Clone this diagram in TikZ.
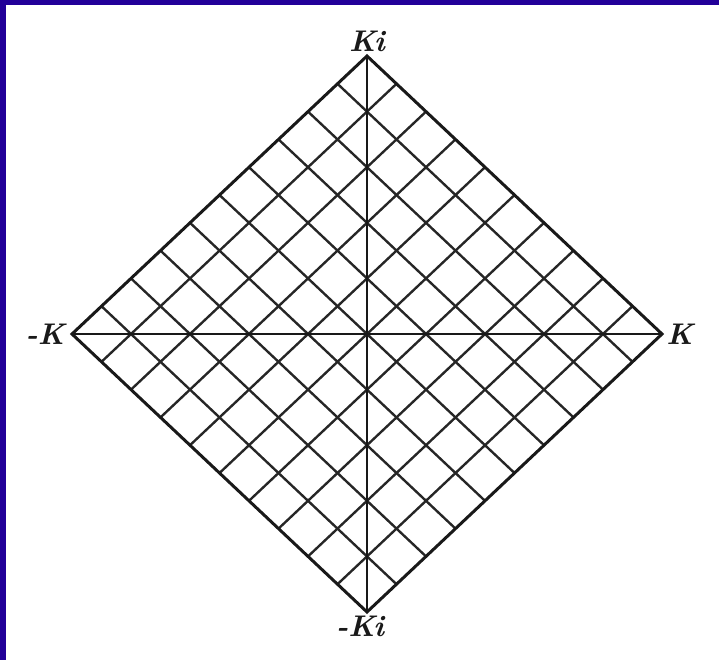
\documentclass[tikz,border=0pt]{standalone}
\usepackage{tikz}
\usetikzlibrary{positioning,calc}
\definecolor{frameblue}{RGB}{34,0,153}

\begin{document}
\begin{tikzpicture}[x=0.02cm,y=-0.02cm,
edge/.style={line width=1.7pt,black!90,line join=miter},
gridline/.style={line width=1.35pt,black!85},
axis/.style={line width=1.3pt,black!90},
lbl/.style={inner sep=0pt,black!90,font=\fontsize{17}{20}\selectfont\bfseries\itshape}]
% page, with the blue strips at top and left
\useasboundingbox (0,0) rectangle (719,660);
\fill[white] (0,0) rectangle (719,660);
\fill[frameblue] (0,0) rectangle (719,5);
\fill[frameblue] (0,0) rectangle (6,660);
% corners of the square
\coordinate (kipos) at (367,56);
\coordinate (kineg) at (367,612);
\coordinate (kneg) at (72,334);
\coordinate (kpos) at (662,334);
% net of lines parallel to the sides
\foreach \k in {1,...,9}{
  \draw[gridline] ($(kneg)!\k/10!(kineg)$) -- ($(kipos)!\k/10!(kpos)$);
  \draw[gridline] ($(kneg)!\k/10!(kipos)$) -- ($(kineg)!\k/10!(kpos)$);
}
\draw[axis] (kneg) -- (kpos);
\draw[axis] (kipos) -- (kineg);
\draw[edge] (kneg) -- (kipos) -- (kpos) -- (kineg) -- cycle;
% labels
\node[lbl,above=0.08cm of kipos] (lblkipos) {Ki};
\node[lbl,below=0.08cm of kineg,xshift=-0.14cm] (lblkineg) {-Ki};
\node[lbl,right=0.08cm of kpos] (lblkpos) {K};
\node[lbl,left=0.14cm of kneg] (lblkneg) {-K};
\end{tikzpicture}
\end{document}
